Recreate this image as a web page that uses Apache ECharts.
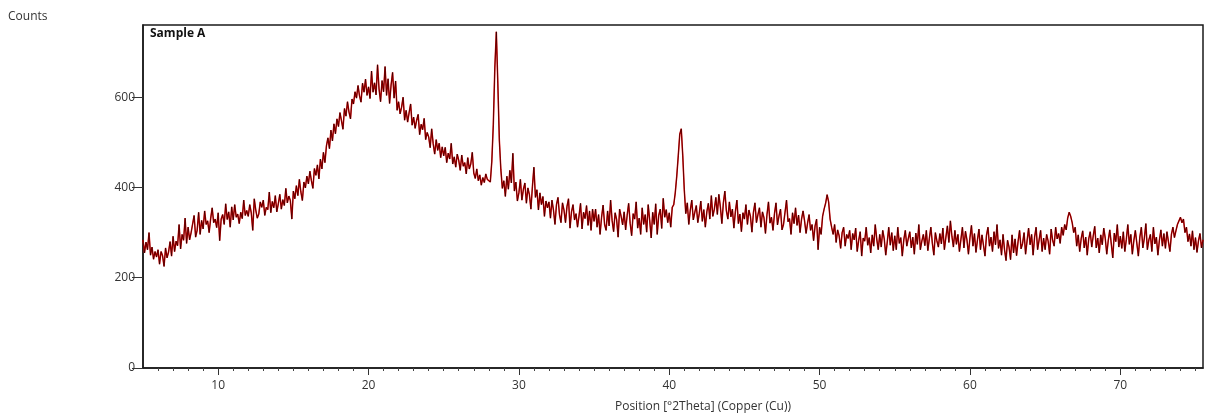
<!DOCTYPE html>
<html>
<head>
<meta charset="utf-8">
<script src="https://cdn.jsdelivr.net/npm/echarts@6/dist/echarts.min.js"></script>
<style>
  html, body { margin: 0; padding: 0; background: #fff; }
  #chart { width: 1205px; height: 418px; }
</style>
</head>
<body>
<div id="chart"></div>
<script>
// scan: start 5.0 °2Theta, step 0.1
var startAngle = 5.0;
var stepAngle = 0.1;

// counts, 10 values per degree
var counts5to15 = [
  284, 255, 279, 262, 300, 250, 268, 241, 258, 246,
  262, 230, 258, 249, 225, 266, 244, 257, 280, 248,
  292, 258, 281, 271, 318, 264, 296, 283, 332, 276,
  312, 284, 300, 297, 338, 290, 305, 345, 296, 327,
  308, 348, 318, 326, 300, 331, 355, 322, 330, 311,
  344, 282, 330, 340, 318, 364, 329, 346, 312, 357,
  328, 362, 334, 341, 320, 345, 331, 372, 338, 349,
  336, 362, 344, 305, 375, 350, 332, 341, 368, 356,
  372, 338, 356, 351, 390, 344, 369, 355, 382, 346,
  364, 385, 352, 373, 360, 398, 366, 381, 371, 330
];
var counts15to25 = [
  392, 375, 404, 382, 418, 390, 371, 412, 399, 425,
  408, 436, 415, 398, 442, 427, 450, 419, 463, 441,
  478, 455, 492, 510, 486, 527, 503, 541, 519, 552,
  535, 566, 548, 529, 575, 558, 590, 567, 552, 596,
  585, 612, 598, 626, 603, 589, 631, 611, 640, 604,
  623, 597, 658, 611, 632, 605, 672, 618, 590, 637,
  612, 668, 604, 641, 586, 627, 655, 598, 636, 571,
  590, 563, 578, 600, 549, 571, 545, 566, 585, 538,
  556, 531, 549, 562, 517, 540, 528, 553, 506, 522,
  512, 488, 530, 497, 474, 506, 482, 498, 466, 490
];
var counts25to35 = [
  470, 489, 455, 476, 463, 498, 452, 468, 445, 474,
  460, 438, 472, 447, 455, 430, 466, 441, 452, 478,
  432, 420, 441, 415, 428, 405, 422, 411, 430, 418,
  420, 412, 458, 540, 665, 745, 630, 505, 440, 398,
  415, 380, 425, 396, 438, 410, 476, 392, 412, 370,
  388, 418, 372, 396, 410, 365, 399, 384, 352, 402,
  445, 378, 395, 350, 388, 362, 380, 336, 370, 355,
  368, 332, 372, 350, 318, 362, 378, 340, 322, 366,
  350, 322, 358, 375, 310, 346, 362, 328, 342, 312,
  337, 365, 308, 345, 331, 360, 316, 348, 305, 352
];
var counts35to45 = [
  325, 352, 312, 340, 296, 334, 361, 318, 305, 348,
  315, 372, 327, 302, 344, 329, 290, 352, 336, 317,
  346, 306, 338, 365, 321, 293, 342, 330, 368, 310,
  332, 296, 355, 318, 340, 301, 362, 327, 288, 345,
  318, 364, 296, 338, 352, 309, 376, 334, 351, 322,
  344, 312, 356, 362, 388, 425, 470, 518, 530, 470,
  395, 342, 366, 318, 350, 372, 328, 345, 360, 322,
  343, 370, 325, 351, 312, 346, 365, 330, 382, 336,
  352, 378, 340, 385, 357, 320, 366, 392, 348, 330,
  368, 335, 352, 310, 347, 372, 320, 341, 302, 344
];
var counts45to55 = [
  330, 362, 318, 350, 336, 301, 345, 366, 322, 340,
  355, 312, 346, 333, 298, 340, 368, 321, 334, 305,
  342, 366, 317, 337, 352, 306, 318, 345, 372, 324,
  331, 296, 344, 320, 355, 316, 339, 300, 330, 348,
  326, 298, 321, 340, 305, 318, 282, 315, 330, 262,
  312, 296, 336, 352, 365, 384, 368, 330, 312, 296,
  318, 278, 306, 293, 265, 300, 312, 270, 296, 287,
  305, 262, 298, 284, 310, 258, 283, 302, 248, 288,
  281, 312, 272, 289, 255, 295, 270, 318, 286, 262,
  296, 268, 305, 286, 250, 279, 312, 272, 300, 260
];
var counts55to65 = [
  293, 262, 312, 276, 289, 248, 284, 305, 270, 287,
  302, 266, 290, 252, 299, 274, 318, 262, 281, 296,
  271, 305, 260, 287, 312, 276, 250, 300, 282, 268,
  298, 275, 310, 262, 290, 315, 278, 326, 292, 268,
  305, 274, 296, 258, 285, 312, 266, 303, 284, 252,
  289, 316, 270, 298, 256, 284, 308, 262, 295, 272,
  248, 294, 312, 270, 290, 258, 302, 273, 318, 265,
  284, 250, 296, 262, 238, 283, 268, 240, 295, 255,
  286, 249, 280, 305, 264, 276, 300, 252, 282, 310,
  273, 296, 250, 290, 312, 262, 284, 305, 258, 288
];
var counts65to75 = [
  262, 296, 281, 252, 308, 283, 270, 312, 286, 298,
  276, 312, 294, 318, 306, 332, 345, 336, 322, 300,
  312, 270, 295, 258, 287, 304, 266, 290, 250, 286,
  302, 268, 293, 314, 266, 288, 255, 295, 273, 310,
  287, 252, 283, 306, 275, 244, 299, 280, 318, 268,
  292, 265, 302, 258, 285, 318, 274, 296, 252, 282,
  305, 276, 248, 290, 312, 266, 288, 320, 262, 284,
  296, 258, 312, 275, 290, 250, 283, 306, 270, 298,
  265, 302, 280, 258, 296, 312, 289, 304, 318, 326,
  334, 322, 330, 300, 312, 280, 297, 270, 304, 262,
  289, 256, 282, 298, 266, 284
];

var xLabels = [10, 20, 30, 40, 50, 60, 70];
var yLabels = [0, 200, 400, 600];

var allCounts = [].concat(counts5to15, counts15to25, counts25to35,
  counts35to45, counts45to55, counts55to65, counts65to75);

var pattern = allCounts.map(function (c, i) {
  return [+(startAngle + i * stepAngle).toFixed(1), c];
});

var font = "'Open Sans', 'DejaVu Sans', sans-serif";

var myChart = echarts.init(document.getElementById('chart'));

var option = {
  animation: false,
  backgroundColor: '#fff',
  grid: {
    left: 143,
    right: 2,
    top: 25,
    bottom: 49,
    show: true,
    borderColor: '#1a1a1a',
    borderWidth: 1.5
  },
  graphic: [
    {
      type: 'text', left: 8, top: 11,
      style: { text: 'Counts', font: '12px ' + font, fill: '#333' }
    },
    {
      type: 'text', left: 150, top: 28,
      style: { text: 'Sample A', font: 'bold 12px ' + font, fill: '#111' }
    }
  ],
  xAxis: [
    {
      // minor ticks every degree, labels only on the tens
      type: 'value',
      min: 5,
      max: 75.5,
      interval: 1,
      position: 'bottom',
      name: 'Position [°2Theta] (Copper (Cu))',
      nameLocation: 'middle',
      nameGap: 33,
      nameTextStyle: { fontFamily: font, fontSize: 12, color: '#333', padding: [0, 0, 0, 60] },
      axisLine: { lineStyle: { color: '#1a1a1a', width: 1.5 } },
      axisTick: { length: 3, lineStyle: { color: '#444' } },
      axisLabel: {
        margin: 12, fontFamily: font, fontSize: 12, color: '#333',
        showMinLabel: false, showMaxLabel: false,
        formatter: function (v) { return xLabels.indexOf(v) >= 0 ? String(v) : ''; }
      },
      splitLine: { show: false }
    },
    {
      type: 'value',
      min: 5,
      max: 75.5,
      position: 'bottom',
      axisLine: { show: false },
      axisTick: { customValues: xLabels, length: 7, lineStyle: { color: '#333' } },
      axisLabel: { show: false },
      splitLine: { show: false }
    }
  ],
  yAxis: {
    type: 'value',
    min: 0,
    max: 760,
    interval: 200,
    axisLine: { show: true, lineStyle: { color: '#1a1a1a', width: 1.5 } },
    axisTick: { show: true, length: 11, lineStyle: { color: '#333' } },
    axisLabel: { margin: 8, showMaxLabel: false, fontFamily: font, fontSize: 12, color: '#333' },
    splitLine: { show: false }
  },
  series: [
    {
      type: 'line',
      data: pattern,
      showSymbol: false,
      lineStyle: { color: '#f00000', width: 1.5 },
      z: 2
    },
    {
      type: 'line',
      data: pattern,
      showSymbol: false,
      lineStyle: { color: '#000', width: 0.7, opacity: 0.85 },
      z: 3
    }
  ]
};

myChart.setOption(option);
</script>
</body>
</html>
